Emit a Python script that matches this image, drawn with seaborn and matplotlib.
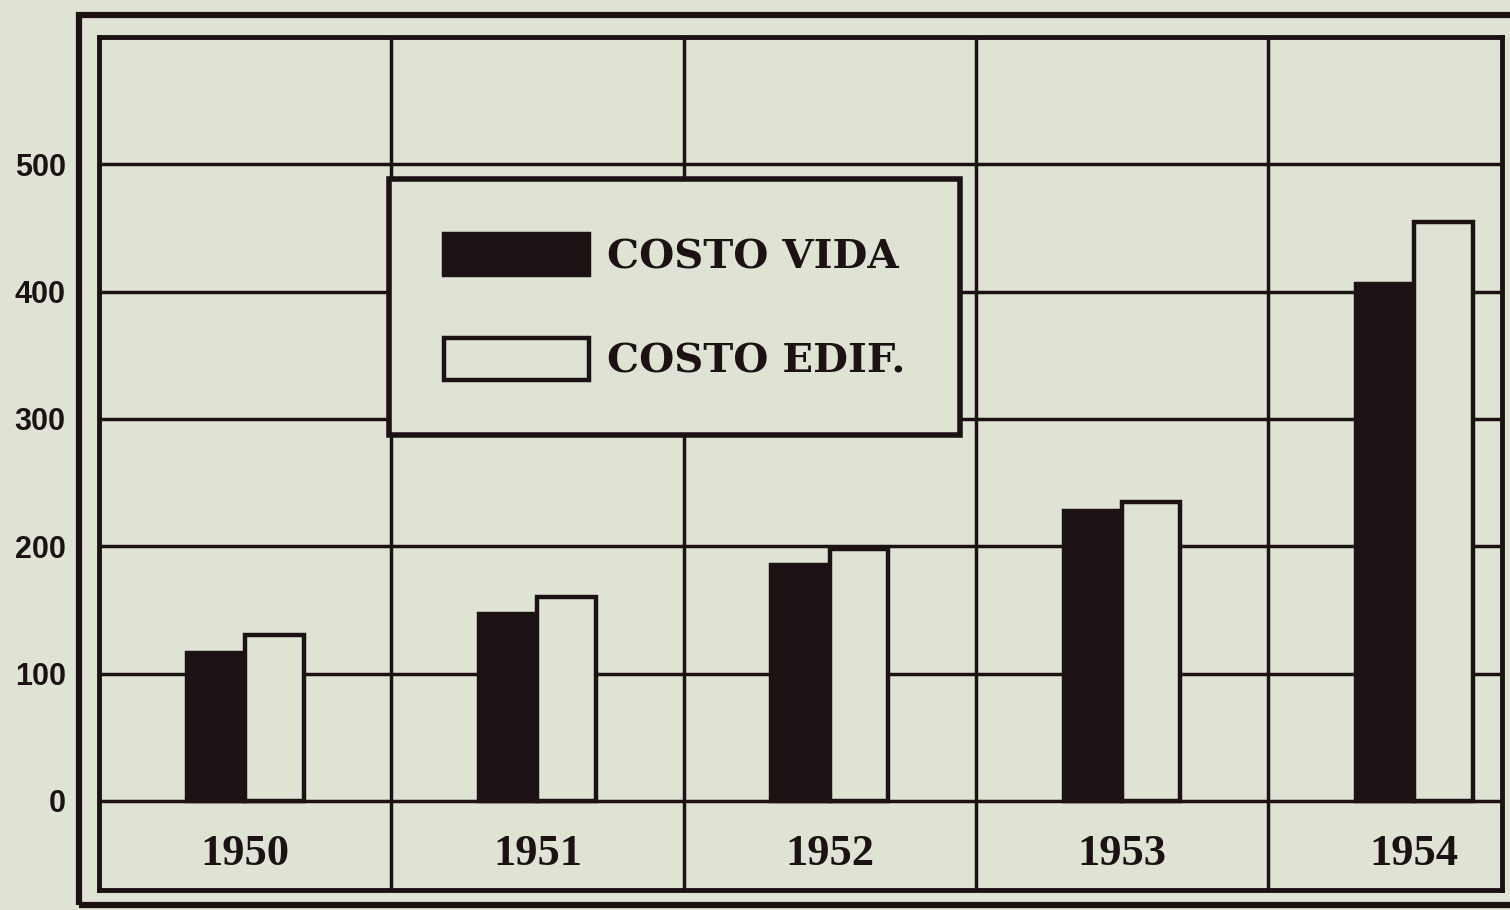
import numpy as np
import pandas as pd
import matplotlib.pyplot as plt
import seaborn as sns
from matplotlib.patches import Rectangle
from matplotlib.font_manager import FontProperties

# values (index numbers)
years = ['1950', '1951', '1952', '1953', '1954']
costo_vida = [116, 147, 185, 228, 406]
costo_edif = [130, 160, 198, 235, 455]
series_labels = ['COSTO VIDA', 'COSTO EDIF.']
y_ticks = [0, 100, 200, 300, 400, 500, 600]
y_ticklabels = ['0', '100', '200', '300', '400', '500', '']

paper = '#dee3d4'
ink = '#1c1214'

df = pd.DataFrame({'year': years * 2,
                   'value': costo_vida + costo_edif,
                   'serie': [series_labels[0]] * len(years) + [series_labels[1]] * len(years)})

sns.set_style('white')
plt.rcParams['font.family'] = ['Liberation Sans', 'DejaVu Sans']

fig = plt.figure(figsize=(15.1, 9.1), dpi=100, facecolor=paper)
ax = fig.add_axes([99 / 1510, 1 - 890 / 910, 1403 / 1510, 853 / 910])
ax.set_facecolor(paper)

sns.barplot(data=df, x='year', y='value', hue='serie', order=years, hue_order=series_labels,
            palette={series_labels[0]: ink, series_labels[1]: paper}, width=0.4, gap=0,
            edgecolor=ink, linewidth=3.2, saturation=1, legend=False, ax=ax, zorder=3)

ax.set_xlim(-0.5, 4.3)
ax.set_ylim(-70, 600)
ax.set_yticks(y_ticks)
ax.set_yticklabels(y_ticklabels)
ax.set_xticks(np.arange(len(years) - 1) + 0.5, minor=True)
ax.set_axisbelow(True)
ax.grid(axis='y', which='major', color=ink, linewidth=2.5)
ax.grid(axis='x', which='minor', color=ink, linewidth=2.5)
ax.grid(axis='x', which='major', visible=False)
ax.set_xlabel('')
ax.set_ylabel('')

for side in ax.spines.values():
    side.set_visible(True)
    side.set_color(ink)
    side.set_linewidth(3.5)

ax.tick_params(axis='y', length=0, pad=24, labelsize=22, labelcolor=ink)
ax.tick_params(axis='x', which='both', length=0, pad=-40, labelcolor=ink)
for lbl in ax.get_yticklabels():
    lbl.set_fontweight('bold')
for lbl in ax.get_xticklabels():
    lbl.set_fontproperties(FontProperties(family='Liberation Serif', weight='bold', size=32))

leg = ax.legend(handles=ax.containers[:2], labels=series_labels, loc='upper left',
                bbox_to_anchor=(0.207, 0.833), borderaxespad=0,
                prop=FontProperties(family='DejaVu Serif', weight='bold', size=29),
                handlelength=3.6, handleheight=1.2, handletextpad=0.45,
                labelspacing=1.55, borderpad=1.35, frameon=True, fancybox=False,
                edgecolor=ink, facecolor=paper, framealpha=1)
leg.get_frame().set_linewidth(4)
for t in leg.get_texts():
    t.set_color(ink)

# outer double frame of the printed figure
fig.add_artist(Rectangle((79 / 1510, 1 - 905 / 910), 1.0, 890 / 910, transform=fig.transFigure,
                         fill=False, edgecolor=ink, linewidth=4.5))

fig.savefig('out.png', dpi=100, facecolor=paper)
